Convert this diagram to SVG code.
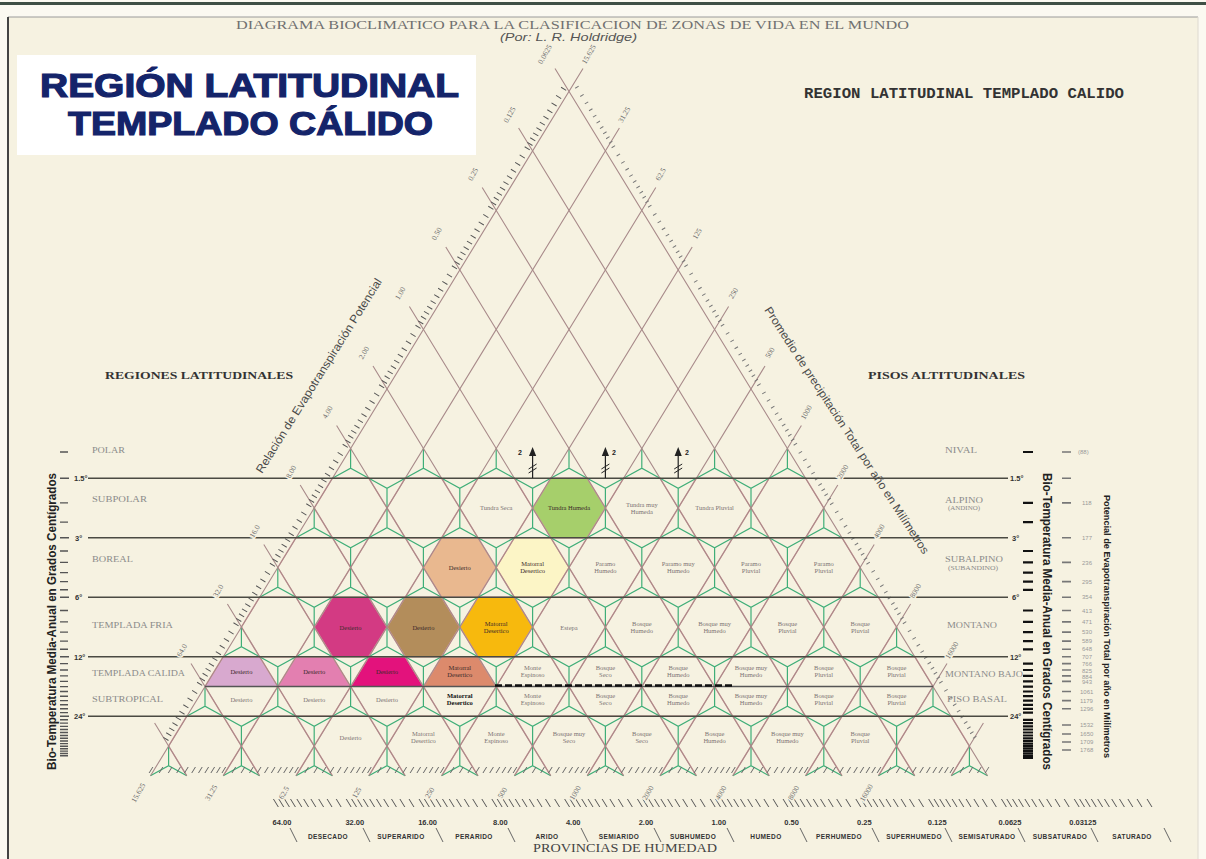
<svg xmlns="http://www.w3.org/2000/svg" width="1206" height="859" viewBox="0 0 1206 859">
<style>
.gl{fill:none;stroke:#a88a8a;stroke-width:1.1}
.ho{fill:none;stroke:#dc9e9e;stroke-width:1.4}
.gr{fill:none;stroke:#3fae78;stroke-width:1.2}
.hz{fill:none;stroke:#4a4a42;stroke-width:1.3}
.hl{font-family:"Liberation Serif",serif;font-size:6.5px;fill:#7d7474;text-anchor:middle}
.dk{fill:#3a2a2a}
.rl{font-family:"Liberation Serif",serif;font-size:9px;fill:#8a8a8a}
.ax{font-family:"Liberation Serif",serif;font-size:7.5px;fill:#6f6f6f;text-anchor:middle;paint-order:stroke;stroke:#f6f2e1;stroke-width:3px}
.bt{font-family:"Liberation Sans",sans-serif;font-weight:bold;fill:#333}
.tt{font-family:"Liberation Sans",Arial,sans-serif;font-weight:bold;font-size:33px;fill:#14246a;stroke:#14246a;stroke-width:1.2px}
.sl{font-family:"Liberation Sans",sans-serif;font-size:11.5px;fill:#4a4a4a}
.num{font-family:"Liberation Sans",sans-serif;font-size:6px;fill:#9a9a9a}
.fg{fill:#a6cf6b}.fp{fill:#e9b88f}.fc{fill:#fcf5c6}.fm{fill:#d33a83}.fb{fill:#b38d5b}.fo{fill:#f7b90d}.fl{fill:#d8a9cf}.fk{fill:#e37fb0}.fM{fill:#e3127c}.fs{fill:#dc8a6c}
</style>
<defs>
<polygon id="hx" points="-36.4,0 -18.2,-29.75 18.2,-29.75 36.4,0 18.2,29.75 -18.2,29.75"/>
<polyline id="hxo" points="-18.2,29.75 -36.4,0 -18.2,-29.75 18.2,-29.75 36.4,0 18.2,29.75"/>
<polygon id="hxt" points="-36.4,0 -18.2,-29.75 18.2,-29.75 36.4,0"/>
<path id="gu" d="M0,0V19.8M-18.2,29.75L0,19.8L18.2,29.75"/>
<path id="gd" d="M0,0V-19.8M-18.2,-29.75L0,-19.8L18.2,-29.75"/>
</defs>

<rect width="1206" height="859" fill="#fbf9f1"/>
<rect x="8" y="17" width="1190" height="842" fill="#f6f2e1"/>
<line x1="0" y1="3.5" x2="1206" y2="3.5" stroke="#3f4f45" stroke-width="3"/>
<line x1="8" y1="17" x2="1198" y2="17" stroke="#9a9a9a" stroke-width="1"/>
<line x1="8" y1="17" x2="8" y2="859" stroke="#444" stroke-width="2"/>
<line x1="1198" y1="17" x2="1198" y2="859" stroke="#dedad0" stroke-width="1"/>

<g id="title-box">
<rect x="17" y="55" width="459" height="100" fill="#ffffff"/>
<text class="tt" x="40" y="97" textLength="419" lengthAdjust="spacingAndGlyphs">REGIÓN LATITUDINAL</text>
<text class="tt" x="68" y="135" textLength="365" lengthAdjust="spacingAndGlyphs">TEMPLADO CÁLIDO</text>
</g>

<g id="header">
<text x="236" y="29" textLength="673" lengthAdjust="spacingAndGlyphs" style="font-family:'Liberation Serif',serif;font-size:12.5px;fill:#707070">DIAGRAMA BIOCLIMATICO PARA LA CLASIFICACION DE ZONAS DE VIDA EN EL MUNDO</text>
<text x="500" y="41" textLength="137" lengthAdjust="spacingAndGlyphs" style="font-family:'Liberation Sans',sans-serif;font-style:italic;font-size:10.5px;fill:#555">(Por: L. R. Holdridge)</text>
<text x="804" y="98" textLength="320" lengthAdjust="spacingAndGlyphs" style="font-family:'Liberation Mono',monospace;font-weight:bold;font-size:14px;fill:#333">REGION LATITUDINAL TEMPLADO CALIDO</text>
<text x="105" y="379" textLength="188" lengthAdjust="spacingAndGlyphs" style="font-family:'Liberation Serif',serif;font-weight:bold;font-size:11px;fill:#333">REGIONES LATITUDINALES</text>
<text x="868" y="379" textLength="157" lengthAdjust="spacingAndGlyphs" style="font-family:'Liberation Serif',serif;font-weight:bold;font-size:11px;fill:#333">PISOS ALTITUDINALES</text>
</g>

<g id="hex-fills">
<use href="#hx" x="569" y="508" class="fg"/>
<use href="#hx" x="459.8" y="567.5" class="fp"/>
<use href="#hx" x="532.6" y="567.5" class="fc"/>
<use href="#hx" x="350.6" y="627" class="fm"/>
<use href="#hx" x="423.4" y="627" class="fb"/>
<use href="#hx" x="496.2" y="627" class="fo"/>
<use href="#hxt" x="241.4" y="686.5" class="fl"/>
<use href="#hxt" x="314.2" y="686.5" class="fk"/>
<use href="#hxt" x="387" y="686.5" class="fM"/>
<use href="#hxt" x="459.8" y="686.5" class="fs"/>
</g>

<g id="hex-outlines" class="ho">
<use href="#hx" x="350.6" y="508"/><use href="#hx" x="423.4" y="508"/><use href="#hx" x="496.2" y="508"/><use href="#hx" x="569" y="508"/><use href="#hx" x="641.8" y="508"/><use href="#hx" x="714.6" y="508"/><use href="#hx" x="787.4" y="508"/>
<use href="#hx" x="314.2" y="567.5"/><use href="#hx" x="387" y="567.5"/><use href="#hx" x="459.8" y="567.5"/><use href="#hx" x="532.6" y="567.5"/><use href="#hx" x="605.4" y="567.5"/><use href="#hx" x="678.2" y="567.5"/><use href="#hx" x="751" y="567.5"/><use href="#hx" x="823.8" y="567.5"/>
<use href="#hx" x="277.8" y="627"/><use href="#hx" x="350.6" y="627"/><use href="#hx" x="423.4" y="627"/><use href="#hx" x="496.2" y="627"/><use href="#hx" x="569" y="627"/><use href="#hx" x="641.8" y="627"/><use href="#hx" x="714.6" y="627"/><use href="#hx" x="787.4" y="627"/><use href="#hx" x="860.2" y="627"/>
<use href="#hx" x="241.4" y="686.5"/><use href="#hx" x="314.2" y="686.5"/><use href="#hx" x="387" y="686.5"/><use href="#hx" x="459.8" y="686.5"/><use href="#hx" x="532.6" y="686.5"/><use href="#hx" x="605.4" y="686.5"/><use href="#hx" x="678.2" y="686.5"/><use href="#hx" x="751" y="686.5"/><use href="#hx" x="823.8" y="686.5"/><use href="#hx" x="896.6" y="686.5"/>
<use href="#hxo" x="205" y="746"/><use href="#hxo" x="277.8" y="746"/><use href="#hxo" x="350.6" y="746"/><use href="#hxo" x="423.4" y="746"/><use href="#hxo" x="496.2" y="746"/><use href="#hxo" x="569" y="746"/><use href="#hxo" x="641.8" y="746"/><use href="#hxo" x="714.6" y="746"/><use href="#hxo" x="787.4" y="746"/><use href="#hxo" x="860.2" y="746"/><use href="#hxo" x="933" y="746"/>
</g>

<g id="transition-lines" class="gr">
<use href="#gu" x="350.6" y="448.5"/><use href="#gu" x="423.4" y="448.5"/><use href="#gu" x="496.2" y="448.5"/><use href="#gu" x="569" y="448.5"/><use href="#gu" x="641.8" y="448.5"/><use href="#gu" x="714.6" y="448.5"/><use href="#gu" x="787.4" y="448.5"/>
<use href="#gu" x="314.2" y="508"/><use href="#gu" x="387" y="508"/><use href="#gu" x="459.8" y="508"/><use href="#gu" x="532.6" y="508"/><use href="#gu" x="605.4" y="508"/><use href="#gu" x="678.2" y="508"/><use href="#gu" x="751" y="508"/><use href="#gu" x="823.8" y="508"/>
<use href="#gu" x="277.8" y="567.5"/><use href="#gu" x="350.6" y="567.5"/><use href="#gu" x="423.4" y="567.5"/><use href="#gu" x="496.2" y="567.5"/><use href="#gu" x="569" y="567.5"/><use href="#gu" x="641.8" y="567.5"/><use href="#gu" x="714.6" y="567.5"/><use href="#gu" x="787.4" y="567.5"/><use href="#gu" x="860.2" y="567.5"/>
<use href="#gu" x="241.4" y="627"/><use href="#gu" x="314.2" y="627"/><use href="#gu" x="387" y="627"/><use href="#gu" x="459.8" y="627"/><use href="#gu" x="532.6" y="627"/><use href="#gu" x="605.4" y="627"/><use href="#gu" x="678.2" y="627"/><use href="#gu" x="751" y="627"/><use href="#gu" x="823.8" y="627"/><use href="#gu" x="896.6" y="627"/>
<use href="#gu" x="205" y="686.5"/><use href="#gu" x="277.8" y="686.5"/><use href="#gu" x="350.6" y="686.5"/><use href="#gu" x="423.4" y="686.5"/><use href="#gu" x="496.2" y="686.5"/><use href="#gu" x="569" y="686.5"/><use href="#gu" x="641.8" y="686.5"/><use href="#gu" x="714.6" y="686.5"/><use href="#gu" x="787.4" y="686.5"/><use href="#gu" x="860.2" y="686.5"/><use href="#gu" x="933" y="686.5"/>
<use href="#gu" x="168.6" y="746"/><use href="#gu" x="241.4" y="746"/><use href="#gu" x="314.2" y="746"/><use href="#gu" x="387" y="746"/><use href="#gu" x="459.8" y="746"/><use href="#gu" x="532.6" y="746"/><use href="#gu" x="605.4" y="746"/><use href="#gu" x="678.2" y="746"/><use href="#gu" x="751" y="746"/><use href="#gu" x="823.8" y="746"/><use href="#gu" x="896.6" y="746"/><use href="#gu" x="969.4" y="746"/>
<use href="#gd" x="387" y="508"/><use href="#gd" x="459.8" y="508"/><use href="#gd" x="532.6" y="508"/><use href="#gd" x="605.4" y="508"/><use href="#gd" x="678.2" y="508"/><use href="#gd" x="751" y="508"/>
<use href="#gd" x="350.6" y="567.5"/><use href="#gd" x="423.4" y="567.5"/><use href="#gd" x="496.2" y="567.5"/><use href="#gd" x="569" y="567.5"/><use href="#gd" x="641.8" y="567.5"/><use href="#gd" x="714.6" y="567.5"/><use href="#gd" x="787.4" y="567.5"/>
<use href="#gd" x="314.2" y="627"/><use href="#gd" x="387" y="627"/><use href="#gd" x="459.8" y="627"/><use href="#gd" x="532.6" y="627"/><use href="#gd" x="605.4" y="627"/><use href="#gd" x="678.2" y="627"/><use href="#gd" x="751" y="627"/><use href="#gd" x="823.8" y="627"/>
<use href="#gd" x="277.8" y="686.5"/><use href="#gd" x="350.6" y="686.5"/><use href="#gd" x="423.4" y="686.5"/><use href="#gd" x="496.2" y="686.5"/><use href="#gd" x="569" y="686.5"/><use href="#gd" x="641.8" y="686.5"/><use href="#gd" x="714.6" y="686.5"/><use href="#gd" x="787.4" y="686.5"/><use href="#gd" x="860.2" y="686.5"/>
<use href="#gd" x="241.4" y="746"/><use href="#gd" x="314.2" y="746"/><use href="#gd" x="387" y="746"/><use href="#gd" x="459.8" y="746"/><use href="#gd" x="532.6" y="746"/><use href="#gd" x="605.4" y="746"/><use href="#gd" x="678.2" y="746"/><use href="#gd" x="751" y="746"/><use href="#gd" x="823.8" y="746"/><use href="#gd" x="896.6" y="746"/>
</g>

<g id="guide-lines" class="gl">
<path d="M150.5,775.75L583,68.5M223.3,775.75L619.4,128M296.1,775.75L655.8,187.5M368.9,775.75L692.2,247M441.7,775.75L728.6,306.5M514.5,775.75L765,366M587.3,775.75L801.4,425.5M660.1,775.75L837.8,485M732.9,775.75L874.2,544.5M805.7,775.75L910.6,604M878.5,775.75L947,663.5M951.3,775.75L983.4,723"/>
<path d="M987.5,775.75L555,68.5M914.7,775.75L518.6,128M841.9,775.75L482.2,187.5M769.1,775.75L445.8,247M696.3,775.75L409.4,306.5M623.5,775.75L373,366M550.7,775.75L336.6,425.5M477.9,775.75L300.2,485M405.1,775.75L263.8,544.5M332.3,775.75L227.4,604M259.5,775.75L191,663.5M186.7,775.75L154.6,723"/>
</g>

<g id="scale-hatching" fill="none">
<path d="M563.9,88.4L163.5,742.9" stroke="#555" stroke-width="6" stroke-dasharray="1 8.59 1 7.75 1 7.06 1 6.46 1 5.94 1 5.5 1 5.1 1 4.75 1 4.45 1 4.15"/>
<path d="M576.7,86.8L977.1,741.3" stroke="#777" stroke-width="4" stroke-dasharray="1 8.59 1 7.75 1 7.06 1 6.46 1 5.94 1 5.5 1 5.1 1 4.75 1 4.45 1 4.15"/>
<g transform="translate(0,770) skewX(-31.5)"><path d="M150.5,0H987.5" stroke="#666" stroke-width="6" stroke-dasharray="1 9.01 1 8.14 1 7.4 1 6.79 1 6.25 1 5.77 1 5.37 1 5 1 4.7 1 4.37"/></g>
<g transform="translate(0,803) skewX(31.5)"><path d="M1150,0H270" stroke="#555" stroke-width="8" stroke-dasharray="1 9.01 1 8.14 1 7.4 1 6.79 1 6.25 1 5.77 1 5.37 1 5 1 4.7 1 4.37"/></g>
</g>

<g id="temperature-lines" class="hz">
<path d="M88,478.25H1008M88,537.75H1008M88,597.25H1008M88,656.75H1008M88,716.25H1008"/>
<path d="M205,686.5H933" stroke="#555"/>
<path d="M495,685.5H733" stroke="#111" stroke-width="2.6" stroke-dasharray="7 3"/>
</g>

<g id="arrows" stroke="#222" stroke-width="1.2" fill="#222">
<path d="M532.6,478V455M605.4,478V455M678.2,478V455" fill="none"/>
<path d="M528.6,469l8,-5M528.6,473l8,-5M601.4,469l8,-5M601.4,473l8,-5M674.2,469l8,-5M674.2,473l8,-5" fill="none" stroke-width="1"/>
<path d="M529,456L532.6,447L536.2,456ZM601.8,456L605.4,447L609,456ZM674.6,456L678.2,447L681.8,456Z" stroke="none"/>
<text x="518" y="455" style="font-family:'Liberation Sans',sans-serif;font-size:7px;font-weight:bold" stroke="none">2</text>
<text x="612" y="455" style="font-family:'Liberation Sans',sans-serif;font-size:7px;font-weight:bold" stroke="none">2</text>
<text x="685" y="455" style="font-family:'Liberation Sans',sans-serif;font-size:7px;font-weight:bold" stroke="none">2</text>
</g>

<g id="hex-labels">
<text class="hl" x="496.2" y="510">Tundra Seca</text>
<text class="hl dk" x="569" y="510">Tundra Humeda</text>
<text class="hl" x="641.8" y="507">Tundra muy<tspan x="641.8" dy="7">Humeda</tspan></text>
<text class="hl" x="714.6" y="510">Tundra Pluvial</text>

<text class="hl dk" x="459.8" y="570">Desierto</text>
<text class="hl dk" x="532.6" y="566">Matorral<tspan x="532.6" dy="7">Desertico</tspan></text>
<text class="hl" x="605.4" y="566">Paramo<tspan x="605.4" dy="7">Humedo</tspan></text>
<text class="hl" x="678.2" y="566">Paramo muy<tspan x="678.2" dy="7">Humedo</tspan></text>
<text class="hl" x="751" y="566">Paramo<tspan x="751" dy="7">Pluvial</tspan></text>
<text class="hl" x="823.8" y="566">Paramo<tspan x="823.8" dy="7">Pluvial</tspan></text>

<text class="hl dk" x="350.6" y="629.5">Desierto</text>
<text class="hl dk" x="423.4" y="629.5">Desierto</text>
<text class="hl dk" x="496.2" y="626">Matorral<tspan x="496.2" dy="7">Desertico</tspan></text>
<text class="hl" x="569" y="629.5">Estepa</text>
<text class="hl" x="641.8" y="626">Bosque<tspan x="641.8" dy="7">Humedo</tspan></text>
<text class="hl" x="714.6" y="626">Bosque muy<tspan x="714.6" dy="7">Humedo</tspan></text>
<text class="hl" x="787.4" y="626">Bosque<tspan x="787.4" dy="7">Pluvial</tspan></text>
<text class="hl" x="860.2" y="626">Bosque<tspan x="860.2" dy="7">Pluvial</tspan></text>

<text class="hl dk" x="241.4" y="674">Desierto</text>
<text class="hl dk" x="314.2" y="674">Desierto</text>
<text class="hl dk" x="387" y="674">Desierto</text>
<text class="hl dk" x="459.8" y="670">Matorral<tspan x="459.8" dy="7">Desertico</tspan></text>
<text class="hl" x="532.6" y="670">Monte<tspan x="532.6" dy="7">Espinoso</tspan></text>
<text class="hl" x="605.4" y="670">Bosque<tspan x="605.4" dy="7">Seco</tspan></text>
<text class="hl" x="678.2" y="670">Bosque<tspan x="678.2" dy="7">Humedo</tspan></text>
<text class="hl" x="751" y="670">Bosque muy<tspan x="751" dy="7">Humedo</tspan></text>
<text class="hl" x="823.8" y="670">Bosque<tspan x="823.8" dy="7">Pluvial</tspan></text>
<text class="hl" x="896.6" y="670">Bosque<tspan x="896.6" dy="7">Pluvial</tspan></text>

<text class="hl" x="241.4" y="702">Desierto</text>
<text class="hl" x="314.2" y="702">Desierto</text>
<text class="hl" x="387" y="702">Desierto</text>
<text class="hl" x="459.8" y="698" style="fill:#111;font-weight:bold">Matorral<tspan x="459.8" dy="7">Desertico</tspan></text>
<text class="hl" x="532.6" y="698">Monte<tspan x="532.6" dy="7">Espinoso</tspan></text>
<text class="hl" x="605.4" y="698">Bosque<tspan x="605.4" dy="7">Seco</tspan></text>
<text class="hl" x="678.2" y="698">Bosque<tspan x="678.2" dy="7">Humedo</tspan></text>
<text class="hl" x="751" y="698">Bosque muy<tspan x="751" dy="7">Humedo</tspan></text>
<text class="hl" x="823.8" y="698">Bosque<tspan x="823.8" dy="7">Pluvial</tspan></text>
<text class="hl" x="896.6" y="698">Bosque<tspan x="896.6" dy="7">Pluvial</tspan></text>

<text class="hl" x="350.6" y="740">Desierto</text>
<text class="hl" x="423.4" y="736">Matorral<tspan x="423.4" dy="7">Desertico</tspan></text>
<text class="hl" x="496.2" y="736">Monte<tspan x="496.2" dy="7">Espinoso</tspan></text>
<text class="hl" x="569" y="736">Bosque muy<tspan x="569" dy="7">Seco</tspan></text>
<text class="hl" x="641.8" y="736">Bosque<tspan x="641.8" dy="7">Seco</tspan></text>
<text class="hl" x="714.6" y="736">Bosque<tspan x="714.6" dy="7">Humedo</tspan></text>
<text class="hl" x="787.4" y="736">Bosque muy<tspan x="787.4" dy="7">Humedo</tspan></text>
<text class="hl" x="860.2" y="736">Bosque<tspan x="860.2" dy="7">Pluvial</tspan></text>
</g>

<g id="edge-labels">
<text class="ax" transform="translate(547,55.5) rotate(-60)">0.0625</text>
<text class="ax" transform="translate(511.6,116) rotate(-60)">0.125</text>
<text class="ax" transform="translate(475.2,175.5) rotate(-60)">0.25</text>
<text class="ax" transform="translate(438.8,235) rotate(-60)">0.50</text>
<text class="ax" transform="translate(402.4,294.5) rotate(-60)">1.00</text>
<text class="ax" transform="translate(366,354) rotate(-60)">2.00</text>
<text class="ax" transform="translate(329.6,413.5) rotate(-60)">4.00</text>
<text class="ax" transform="translate(293.2,473) rotate(-60)">8.00</text>
<text class="ax" transform="translate(256.8,532.5) rotate(-60)">16.0</text>
<text class="ax" transform="translate(220.4,592) rotate(-60)">32.0</text>
<text class="ax" transform="translate(184,651.5) rotate(-60)">64.0</text>
<text class="ax" transform="translate(591,55.5) rotate(-60)">15.625</text>
<text class="ax" transform="translate(626.4,116) rotate(-60)">31.25</text>
<text class="ax" transform="translate(662.8,175.5) rotate(-60)">62.5</text>
<text class="ax" transform="translate(699.2,235) rotate(-60)">125</text>
<text class="ax" transform="translate(735.6,294.5) rotate(-60)">250</text>
<text class="ax" transform="translate(772,354) rotate(-60)">500</text>
<text class="ax" transform="translate(808.4,413.5) rotate(-60)">1000</text>
<text class="ax" transform="translate(844.8,473) rotate(-60)">2000</text>
<text class="ax" transform="translate(881.2,532.5) rotate(-60)">4000</text>
<text class="ax" transform="translate(917.6,592) rotate(-60)">8000</text>
<text class="ax" transform="translate(954,651.5) rotate(-60)">16000</text>
<text class="ax" transform="translate(140.5,794) rotate(-60)">15.625</text>
<text class="ax" transform="translate(213.3,794) rotate(-60)">31.25</text>
<text class="ax" transform="translate(286.1,794) rotate(-60)">62.5</text>
<text class="ax" transform="translate(358.9,794) rotate(-60)">125</text>
<text class="ax" transform="translate(431.7,794) rotate(-60)">250</text>
<text class="ax" transform="translate(504.5,794) rotate(-60)">500</text>
<text class="ax" transform="translate(577.3,794) rotate(-60)">1000</text>
<text class="ax" transform="translate(650.1,794) rotate(-60)">2000</text>
<text class="ax" transform="translate(722.9,794) rotate(-60)">4000</text>
<text class="ax" transform="translate(795.7,794) rotate(-60)">8000</text>
<text class="ax" transform="translate(868.5,794) rotate(-60)">16000</text>
<text class="sl" transform="translate(262,474) rotate(-58)" textLength="227" lengthAdjust="spacingAndGlyphs">Relación de Evapotranspiración Potencial</text>
<text class="sl" transform="translate(764,310) rotate(57)" textLength="292" lengthAdjust="spacingAndGlyphs">Promedio de precipitación Total por año en Milímetros</text>
</g>

<g id="humidity-axis">
<g class="bt" style="font-size:7.5px;text-anchor:middle">
<text x="282" y="825">64.00</text><text x="354.8" y="825">32.00</text><text x="427.6" y="825">16.00</text><text x="500.4" y="825">8.00</text><text x="573.2" y="825">4.00</text><text x="646" y="825">2.00</text><text x="718.8" y="825">1.00</text><text x="791.6" y="825">0.50</text><text x="864.4" y="825">0.25</text><text x="937.2" y="825">0.125</text><text x="1010" y="825">0.0625</text><text x="1082.8" y="825">0.03125</text>
</g>
<g class="bt" style="font-size:6.5px;text-anchor:middle;letter-spacing:0.4px">
<text x="328" y="839">DESECADO</text><text x="401" y="839">SUPERARIDO</text><text x="474" y="839">PERARIDO</text><text x="547" y="839">ARIDO</text><text x="619" y="839">SEMIARIDO</text><text x="693" y="839">SUBHUMEDO</text><text x="766" y="839">HUMEDO</text><text x="839" y="839">PERHUMEDO</text><text x="914" y="839">SUPERHUMEDO</text><text x="987" y="839">SEMISATURADO</text><text x="1060" y="839">SUBSATURADO</text><text x="1132" y="839">SATURADO</text>
</g>
<path d="M290,828l7,14M363,828l7,14M436,828l7,14M508,828l7,14M581,828l7,14M654,828l7,14M727,828l7,14M800,828l7,14M872,828l7,14M945,828l7,14M1018,828l7,14M1091,828l7,14M1164,828l7,14" stroke="#666" stroke-width="1" fill="none"/>
<text x="533" y="852" textLength="184" lengthAdjust="spacingAndGlyphs" style="font-family:'Liberation Serif',serif;font-size:12px;fill:#444">PROVINCIAS DE HUMEDAD</text>
</g>

<g id="left-scale">
<path d="M60,452h8M60,478.25h9M60,502.9h8M60,522.1h8M60,537.75h9M60,551h8M60,562.4h8M60,572.6h8M60,581.6h8M60,589.8h8M60,597.25h9M60,610.5h8M60,621.9h8M60,632.1h8M60,641.1h8M60,649.3h8M60,656.75h9M60,663.6h8M60,670h8M60,675.9h8M60,681.4h8M60,686.6h8M60,691.5h8M60,696.2h8M60,700.6h8M60,704.8h8M60,708.8h8M60,712.6h8M60,716.25h9M60,719.8h8M60,723.1h8M60,726.4h8M60,729.5h8M60,732.5h8M60,735.5h8M60,738.3h8M60,741h8M60,743.6h8M60,746.2h8M60,748.7h8M60,751.1h8M60,753.5h8M60,755.8h8" stroke="#555" stroke-width="1.4" fill="none"/>
<g class="bt" style="font-size:7.5px">
<text x="74" y="481">1.5°</text><text x="75" y="540.5">3°</text><text x="75" y="600">6°</text><text x="74" y="659.5">12°</text><text x="74" y="719">24°</text>
</g>
<text class="bt" transform="translate(56,770) rotate(-90)" textLength="297" lengthAdjust="spacingAndGlyphs" style="font-size:12px;fill:#222">Bio-Temperatura Media-Anual en Grados Centígrados</text>
<text class="rl" x="92" y="453" textLength="33" lengthAdjust="spacingAndGlyphs">POLAR</text>
<text class="rl" x="92" y="502" textLength="55" lengthAdjust="spacingAndGlyphs">SUBPOLAR</text>
<text class="rl" x="92" y="562" textLength="41" lengthAdjust="spacingAndGlyphs">BOREAL</text>
<text class="rl" x="92" y="628" textLength="81" lengthAdjust="spacingAndGlyphs">TEMPLADA FRIA</text>
<text class="rl" x="92" y="676" textLength="93" lengthAdjust="spacingAndGlyphs">TEMPLADA CALIDA</text>
<text class="rl" x="92" y="702" textLength="71" lengthAdjust="spacingAndGlyphs">SUBTROPICAL</text>
</g>

<g id="right-scale">
<text class="rl" x="945" y="453" textLength="32" lengthAdjust="spacingAndGlyphs">NIVAL</text>
<text class="rl" x="945" y="503" textLength="38" lengthAdjust="spacingAndGlyphs">ALPINO</text>
<text class="rl" x="948" y="510" textLength="32" lengthAdjust="spacingAndGlyphs" style="font-size:5.5px">(ANDINO)</text>
<text class="rl" x="945" y="562" textLength="58" lengthAdjust="spacingAndGlyphs">SUBALPINO</text>
<text class="rl" x="948" y="570" textLength="50" lengthAdjust="spacingAndGlyphs" style="font-size:5.5px">(SUBANDINO)</text>
<text class="rl" x="947" y="628" textLength="50" lengthAdjust="spacingAndGlyphs">MONTANO</text>
<text class="rl" x="945" y="677" textLength="78" lengthAdjust="spacingAndGlyphs">MONTANO BAJO</text>
<text class="rl" x="947" y="702" textLength="60" lengthAdjust="spacingAndGlyphs">PISO BASAL</text>
<g class="bt" style="font-size:7.5px">
<text x="1010" y="481">1.5°</text><text x="1012" y="540.5">3°</text><text x="1012" y="600">6°</text><text x="1010" y="659.5">12°</text><text x="1010" y="719">24°</text>
</g>
<path d="M1023,452h10M1023,502.9h10M1023,522.1h10M1023,551h10M1023,562.4h10M1023,572.6h10M1023,581.6h10M1023,589.8h10M1023,610.5h10M1023,621.9h10M1023,632.1h10M1023,641.1h10M1023,649.3h10M1023,663.6h10M1023,670h10M1023,675.9h10M1023,681.4h10M1023,686.6h10M1023,691.5h10M1023,696.2h10M1023,700.6h10M1023,704.8h10M1023,708.8h10M1023,712.6h10M1023,719.8h10M1023,723.1h10M1023,726.4h10M1023,729.5h10M1023,732.5h10M1023,735.5h10M1023,738.3h10M1023,741h10M1023,743.6h10M1023,746.2h10M1023,748.7h10M1023,751.1h10M1023,753.5h10M1023,755.8h10M1023,758h10" stroke="#111" stroke-width="2.2" fill="none"/>
<text class="bt" transform="translate(1043,473) rotate(90)" textLength="297" lengthAdjust="spacingAndGlyphs" style="font-size:12px;fill:#222">Bio-Temperatura Media-Anual en Grados Centígrados</text>
<path d="M1062,452h9M1062,478.25h9M1062,502.9h9M1062,537.75h9M1062,562.4h9M1062,581.6h9M1062,597.25h9M1062,610.5h9M1062,621.9h9M1062,632.1h9M1062,641.1h9M1062,649.3h9M1062,656.75h9M1062,663.6h9M1062,670h9M1062,675.9h9M1062,681.4h9M1062,691.5h9M1062,700.6h9M1062,708.8h9M1062,725h9M1062,734h9M1062,742h9M1062,750h9" stroke="#777" stroke-width="1.6" fill="none"/>
<g class="num">
<text x="1078" y="454">(88)</text>
<text x="1082" y="505">118</text><text x="1082" y="540">177</text><text x="1082" y="564.5">236</text><text x="1082" y="583.5">295</text><text x="1082" y="599">354</text><text x="1082" y="612.5">413</text><text x="1082" y="624">471</text><text x="1082" y="634">530</text><text x="1082" y="643">589</text><text x="1082" y="651">648</text><text x="1082" y="659">707</text><text x="1082" y="666">766</text><text x="1082" y="672.5">825</text><text x="1082" y="678.5">884</text><text x="1082" y="684">943</text><text x="1080" y="694">1061</text><text x="1080" y="703">1179</text><text x="1080" y="711">1296</text><text x="1080" y="727">1532</text><text x="1080" y="736">1650</text><text x="1080" y="744">1709</text><text x="1080" y="752">1768</text>
</g>
<text class="bt" transform="translate(1104,495) rotate(90)" textLength="263" lengthAdjust="spacingAndGlyphs" style="font-size:9.5px;fill:#222">Potencial de Evapotranspiración Total por año en Milímetros</text>
</g>
</svg>
